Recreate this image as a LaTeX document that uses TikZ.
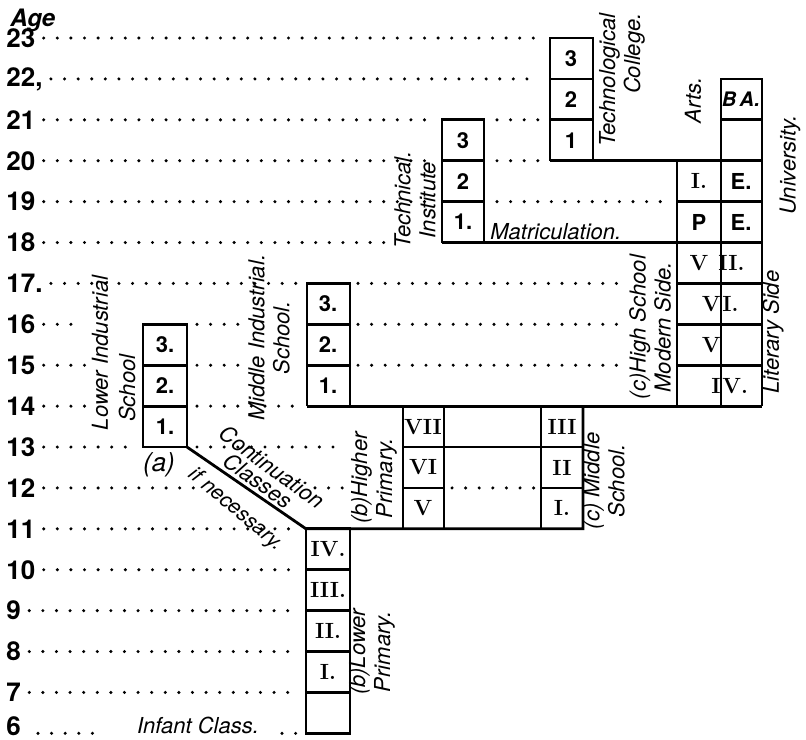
\documentclass[tikz,border=0pt]{standalone}
\usepackage{fontspec}
\setsansfont{TeX Gyre Heros}
\usetikzlibrary{positioning}
\begin{document}
\begin{tikzpicture}[x=0.5pt,y=20.45pt,
  wall/.style={line width=1.4pt},
  dotrow/.style={line width=1.7pt,line cap=round,dash pattern=on 0pt off 6.8pt},
  agelbl/.style={font=\sffamily\bfseries\fontsize{13}{13}\selectfont,anchor=west,inner sep=1pt},
  cellnum/.style={font=\bfseries\fontsize{11}{11}\selectfont,inner sep=0pt},
  cellhand/.style={font=\sffamily\bfseries\fontsize{11}{11}\selectfont,inner sep=0pt},
  hand/.style={font=\sffamily\itshape\fontsize{11}{12.5}\selectfont,align=center,inner sep=0pt}]
  \useasboundingbox (0,5.84) rectangle (806,23.93);
  % Age scale
  \foreach \a/\t in {7/7,8/8,9/9,10/10,11/11,12/12,13/13,14/14,15/15,16/16,17/17.,18/18,19/19,20/20,21/21,22/{22,},23/23}
    \node[agelbl] (a\a) at (4,\a) {\t};
  \node[agelbl,anchor=south west] (a6) at (4,5.88) {6};
  \node[agelbl,font=\sffamily\bfseries\itshape\fontsize{12}{12}\selectfont] (age) at (8,23.42) {Age};
  % Dotted age lines
  \foreach \a/\xe in {23/540,22/540,21/430,20/430,19/430,18/388,17/300,16/75,15/92,14/92,13/138,12/195,11/290,10/295,9/300,8/290,7/300}
    \draw[dotrow] ([xshift=3pt]a\a.east) -- (\xe,\a);
  \draw[dotrow] (38,6) -- (105,6);
  \draw[dotrow] (497,21) -- (540,21) (497,20) -- (540,20) (497,19) -- (670,19);
  \foreach \a in {15,16,17} \draw[dotrow] (358,\a) -- (625,\a);
  \draw[dotrow] (197,16) -- (240,16) (197,15) -- (245,15) (197,14) -- (300,14) (197,13) -- (340,13);
  \draw[dotrow] (315,12) -- (345,12) (452,12) -- (535,12) (282,6) -- (300,6);
  % Lower industrial school
  \draw[wall] (143,13) rectangle (187,16);
  \draw[wall] (143,14) -- (187,14) (143,15) -- (187,15);
  % Continuation classes
  \draw[wall] (187,13) -- (306,11) -- (583,11) -- (583,14);
  % Lower primary
  \draw[wall] (306,6) rectangle (350,11);
  \foreach \a in {7,...,10} \draw[wall] (306,\a) -- (350,\a);
  % Higher primary and middle school
  \draw[wall] (403,11) -- (403,14) (444,11) -- (444,14) (541,11) -- (541,14);
  \draw[wall] (403,13) -- (583,13) (403,12) -- (444,12) (541,12) -- (583,12);
  % Middle industrial school
  \draw[wall] (307,14) -- (307,17) -- (350,17) -- (350,14);
  \draw[wall] (307,15) -- (350,15) (307,16) -- (350,16);
  \draw[wall] (307,14) -- (762,14);
  % High school and university
  \draw[wall] (677,14) -- (677,20) (721,14) -- (721,22) -- (762,22) -- (762,14);
  \foreach \a in {15,...,19} \draw[wall] (677,\a) -- (762,\a);
  \draw[wall] (721,21) -- (762,21);
  \draw[wall] (442,18) -- (677,18);
  % Technical institute
  \draw[wall] (442,18) -- (442,21) -- (484,21) -- (484,18);
  \draw[wall] (442,19) -- (484,19) (442,20) -- (484,20);
  % Technological college
  \draw[wall] (550,20) -- (550,23) -- (593,23) -- (593,20);
  \draw[wall] (550,21) -- (593,21) (550,22) -- (593,22);
  \draw[wall] (550,20) -- (762,20);
  % Class numbers
  \foreach \a/\t in {13/1.,14/2.,15/3.} \node[cellhand] (li\a) at (165,\a+0.5) {\t};
  \foreach \a/\t in {7/I.,8/II.,9/III.,10/IV.} \node[cellnum] (lp\a) at (328,\a+0.5) {\t};
  \foreach \a/\t in {11/V,12/VI,13/VII} \node[cellnum] (hp\a) at (423,\a+0.5) {\t};
  \foreach \a/\t in {11/I.,12/II,13/III} \node[cellnum] (ms\a) at (562,\a+0.5) {\t};
  \foreach \a/\t in {14/1.,15/2.,16/3.} \node[cellhand] (mi\a) at (328,\a+0.5) {\t};
  \foreach \a/\t in {18/1.,19/2,20/3} \node[cellhand] (ti\a) at (463,\a+0.5) {\t};
  \foreach \a/\t in {20/1,21/2,22/3} \node[cellhand] (tc\a) at (571,\a+0.5) {\t};
  \node[cellnum] (ie) at (699,19.5) {I.};
  \node[cellhand] (pe) at (699,18.5) {P};
  \node[cellhand] (e1) at (741,19.5) {E.};
  \node[cellhand] (e2) at (741,18.5) {E.};
  \node[cellhand,font=\sffamily\bfseries\itshape\fontsize{10}{10}\selectfont] (ba) at (741,21.5) {B\,A.};
  \node[cellnum] (hs7a) at (699,17.5) {V};
  \node[cellnum,anchor=west] (hs7b) at (718,17.5) {II.};
  \node[cellnum,anchor=east] (hs6a) at (721,16.5) {V};
  \node[cellnum,anchor=west] (hs6b) at (722,16.5) {I.};
  \node[cellnum,anchor=east] (hs5) at (721,15.5) {V};
  \node[cellnum,anchor=east] (hs4a) at (721,14.5) {I};
  \node[cellnum,anchor=west] (hs4b) at (722,14.5) {V.};
  % School names
  \node[hand,rotate=90,align=right] (tcol) at (622,21.97) {Technological\\College.};
  \node[hand,rotate=90] (tinst) at (415,19.04) {Technical.\\Institute};
  \node[hand,anchor=base west] (matric) at (490,18.08) {Matriculation.};
  \node[hand,rotate=90] (arts) at (693,21.48) {Arts.};
  \node[hand,rotate=90] (univ) at (790,19.9) {University.};
  \node[hand,rotate=90] (lit) at (773,15.81) {Literary Side};
  \node[hand,rotate=90] (hsch) at (650,15.93) {(c)High School\\Modern Side.};
  \node[hand,rotate=90] (mind) at (269,15.67) {Middle Industrial.\\School.};
  \node[hand,rotate=90] (lind) at (100,15.30) {Lower Industrial};
  \node[hand,rotate=90] (lsch) at (127,14.44) {School};
  \node[hand,font=\sffamily\itshape\fontsize{13}{13}\selectfont] (lbla) at (159,12.56) {(a)};
  \node[hand,rotate=-36] (cont) at (272,12.52) {Continuation};
  \node[hand,rotate=-36] (cls) at (258,12.18) {Classes};
  \node[hand,rotate=-40,font=\sffamily\itshape\fontsize{10.5}{12}\selectfont] (ifnec) at (236,11.46) {if necessary.};
  \node[hand,rotate=90] (hprim) at (374,12.24) {(b)Higher\\Primary.};
  \node[hand,rotate=90] (msch) at (604,12.17) {(c) Middle\\School.};
  \node[hand,rotate=90] (lprim) at (372,7.99) {(b)Lower\\Primary.};
  \node[hand] (infant) at (198,6.2) {Infant Class.};
\end{tikzpicture}
\end{document}
